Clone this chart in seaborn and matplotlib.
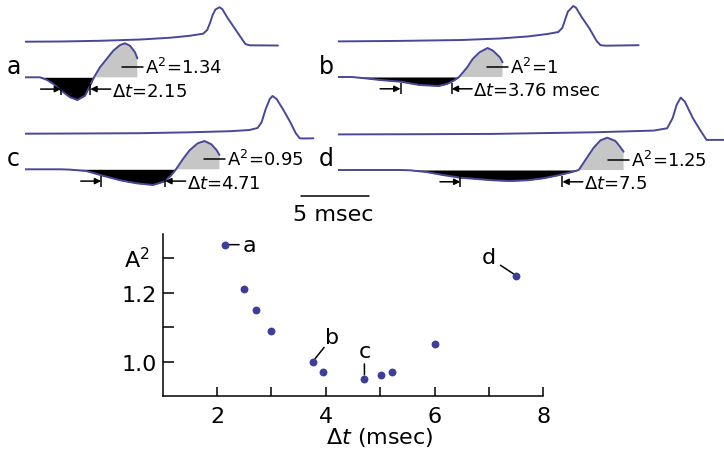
import numpy as np
import matplotlib
matplotlib.use("Agg")
import matplotlib.pyplot as plt
import seaborn as sns

sns.set_style("white")
plt.rcParams["font.family"] = ["DejaVu Sans"]
plt.rcParams["mathtext.fontset"] = "dejavusans"
for key in ["text.color", "axes.labelcolor", "xtick.color", "ytick.color"]:
    plt.rcParams[key] = "black"

# summary: delta t (msec) vs A^2
dt = [2.15, 2.5, 2.72, 3.0, 3.76, 3.95, 4.71, 5.02, 5.22, 6.0, 7.5]
a2 = [1.34, 1.21, 1.15, 1.09, 1.00, 0.97, 0.95, 0.96, 0.97, 1.05, 1.25]
point_labels = ["a", "b", "c", "d"]
point_index = [0, 4, 6, 10]

# example panels
panel_names = ["a", "b", "c", "d"]
panel_dt = [2.15, 3.76, 4.71, 7.5]
panel_a2 = ["1.34", "1", "0.95", "1.25"]
dt_text = ["2.15", "3.76 msec", "4.71", "7.5"]
dt_start = [2.65, 4.6, 5.6, 9.0]

# traces: time (msec), amplitude (arb. units)
ta_top = [0, 2.6, 5.5, 8.5, 10.7, 12.1, 13.1, 13.4, 13.6, 13.8, 14.0, 14.3, 14.5, 14.9, 15.4, 15.9, 16.2, 16.5, 18.6]
va_top = [0, 0.2, 0.9, 2.2, 4.0, 5.9, 8.0, 11.7, 18.7, 26.7, 32.2, 34.4, 32.7, 23.7, 13.7, 3.7, -2.3, -3.6, -3.8]
ta_low = [0, 0.7, 1.1, 1.6, 2.08, 2.82, 3.31, 3.85, 4.41, 4.78, 5.07, 5.51, 6.0, 6.49, 6.99, 7.35, 7.72, 8.09, 8.26]
va_low = [0, 0, 0, -2.5, -6.7, -15, -20, -22.7, -18.4, -8.4, 0, 10, 18.3, 26.6, 32.3, 34, 31.6, 25, 19]

tb_top = [0, 4.6, 9.1, 11.9, 14.0, 15.4, 16.2, 16.5, 16.7, 16.9, 17.3, 17.5, 17.9, 18.5, 19.0, 19.3, 19.7, 22.1]
vb_top = [0, 0.5, 1.4, 2.9, 5.0, 7.4, 9.4, 13.7, 21.7, 29.7, 35.4, 33.7, 24.7, 12.7, 0.7, -3.8, -4.3, -3.8]
tb_low = [0, 1.0, 1.8, 3.1, 4.6, 6.0, 7.4, 8.0, 8.5, 8.9, 9.5, 9.9, 10.4, 11.0, 11.4, 11.9, 12.1]
vb_low = [0, 0, -1, -3, -4.7, -8, -9, -7, -3.7, 0, 9.7, 18, 24.7, 29, 26.3, 19.7, 14.7]

tc_top = [0, 4.0, 8.5, 12.1, 15.1, 16.5, 17.1, 17.4, 17.7, 18.0, 18.2, 18.5, 19.0, 19.5, 19.9, 20.2, 20.5, 21.2]
vc_top = [0, 0.2, 0.5, 1.4, 2.5, 3.7, 5.7, 11.7, 24.7, 34.7, 37.7, 34.7, 23.7, 11.7, 0.7, -4.6, -4.8, -4.6]
tc_low = [0, 2.6, 3.3, 4.5, 5.8, 7.0, 8.2, 9.4, 10.2, 10.7, 11.1, 11.6, 12.1, 12.7, 13.2, 13.7, 14.1, 14.3]
vc_low = [0, 0, -0.3, -1.7, -6.7, -11, -14, -15.7, -12.4, -6.7, 0, 10, 19, 26, 28.3, 25, 19, 14.3]

td_top = [0, 6.0, 11.4, 18.8, 23.2, 24.2, 24.6, 24.9, 25.2, 25.5, 26.1, 26.7, 27.1, 28.4]
vd_top = [0, 0.2, 0.5, 2.1, 3.8, 6.1, 16.1, 29.5, 36.8, 32.8, 16.1, 2.8, -5.5, -5.5]
td_low = [0, 4.6, 5.3, 6.5, 7.7, 9.0, 11.4, 12.6, 13.9, 15.1, 16.3, 17.2, 17.7, 18.3, 18.8, 19.3, 19.8, 20.4, 20.7, 21.0]
vd_low = [0, 0, -0.3, -2, -5, -7.7, -10.3, -11, -10.3, -8.3, -5, -2, 0, 12.3, 22.3, 29.7, 32.3, 29, 24, 18.3]

tops = [(ta_top, va_top), (tb_top, vb_top), (tc_top, vc_top), (td_top, vd_top)]
lows = [(ta_low, va_low), (tb_low, vb_low), (tc_low, vc_low), (td_low, vd_low)]

trace_color = "#48489a"
dot_color = "#3d3d9c"
gray = "#c6c6c6"

W, H = 724, 452
px_per_ms = 13.6
origins = [(25, 78.3), (338, 78), (25, 170.3), (338, 171)]
top_offset = 35.6

fig = plt.figure(figsize=(7.24, 4.52), dpi=100)

panel_axes = []
for i, name in enumerate(panel_names):
    x0, base = origins[i]
    ax = fig.add_axes([x0 / W, 1 - (base + 50) / H, 420 / W, 130 / H])
    ax.set_xlim(0, 420 / px_per_ms)
    ax.set_ylim(-50, 80)
    ax.axis("off")
    ax.patch.set_alpha(0)
    panel_axes.append(ax)

    t_low = np.array(lows[i][0])
    v_low = np.array(lows[i][1])
    ax.fill_between(t_low, v_low, 0, where=v_low <= 0, interpolate=True, color="black", lw=0)
    ax.fill_between(t_low, v_low, 0, where=v_low >= 0, interpolate=True, color=gray, lw=0)
    sns.lineplot(x=t_low, y=v_low, ax=ax, color=trace_color, lw=1.4, sort=False, estimator=None)
    t_top = np.array(tops[i][0])
    v_top = np.array(tops[i][1]) + top_offset
    sns.lineplot(x=t_top, y=v_top, ax=ax, color=trace_color, lw=1.4, sort=False, estimator=None)

    ax.text(-0.85, 4.5, name, fontsize=17, ha="center", va="baseline")

    # delta t arrows
    y_arr = -11.8
    L = 1.5
    left = dt_start[i]
    right = left + panel_dt[i]
    ap = dict(arrowstyle="-|>", color="black", lw=1.1, mutation_scale=9, shrinkA=0, shrinkB=0)
    ax.annotate("", xy=(left, y_arr), xytext=(left - L, y_arr), arrowprops=ap)
    ax.annotate("", xy=(right, y_arr), xytext=(right + L, y_arr), arrowprops=ap)
    ax.vlines([left, right], y_arr - 5.5, y_arr + 5.5, color="black", lw=1.1)
    ax.text(right + L + 0.1, y_arr - 1.5, "Δ$t$=" + dt_text[i], ha="left", va="center", fontsize=13)

    # A^2 label
    t_end = t_low[-1]
    ax.plot([t_end - 1.15, t_end + 0.4], [10.3, 10.3], color="black", lw=1.1)
    ax.text(t_end + 0.55, 10.3, "A$^2$=" + panel_a2[i], ha="left", va="center", fontsize=13)

# scale bar (panel c time base)
ax_c = panel_axes[2]
ax_c.plot([20.3, 25.3], [-26.7, -26.7], color="black", lw=1.1)
ax_c.text(22.7, -34.5, "5 msec", ha="center", va="top", fontsize=16)

# summary scatter
ax = fig.add_axes([162.7 / W, 1 - 397 / H, 380.6 / W, 162 / H])
sns.scatterplot(x=dt, y=a2, ax=ax, color=dot_color, s=32, linewidth=0, zorder=3)
ax.set_xlim(1, 8)
ax.set_ylim(0.9, 1.371)
ax.set_xticks([2, 3, 4, 5, 6, 7, 8])
ax.set_xticklabels(["2", "", "4", "", "6", "", "8"])
ax.set_yticks([1.0, 1.1, 1.2, 1.3])
ax.set_yticklabels(["1.0", "", "1.2", ""])
ax.tick_params(axis="x", direction="in", length=6.5, width=1.1, pad=7, labelsize=16, bottom=True)
ax.tick_params(axis="y", direction="in", length=8, width=1.1, pad=4.5, labelsize=16, left=True)
for s in ["top", "right"]:
    ax.spines[s].set_visible(False)
for s in ["left", "bottom"]:
    ax.spines[s].set_color("black")
    ax.spines[s].set_linewidth(1.1)
ax.set_xlabel("Δ$t$ (msec)", fontsize=16, va="center")
ax.xaxis.set_label_coords(0.571, -0.247)
ax.set_ylabel("")
ax.text(-0.035, 1.30, "A$^2$", transform=ax.get_yaxis_transform(), ha="right", va="center", fontsize=16)

offsets = [(17.6, 0), (14.2, 17.8), (0, 19.7), (-19.9, 13.2)]
shrinkA = [7.6, 9.7, 9.0, 10.4]
shrinkB = [2.2, 2.5, 2.9, 2.3]
for k, lab in enumerate(point_labels):
    j = point_index[k]
    ax.annotate(lab, xy=(dt[j], a2[j]), xytext=offsets[k], textcoords="offset points",
                ha="center", va="center", fontsize=16, zorder=1,
                arrowprops=dict(arrowstyle="-", color="black", lw=1.1, patchA=None,
                                shrinkA=shrinkA[k], shrinkB=shrinkB[k]))

fig.savefig("out.png", dpi=100)
